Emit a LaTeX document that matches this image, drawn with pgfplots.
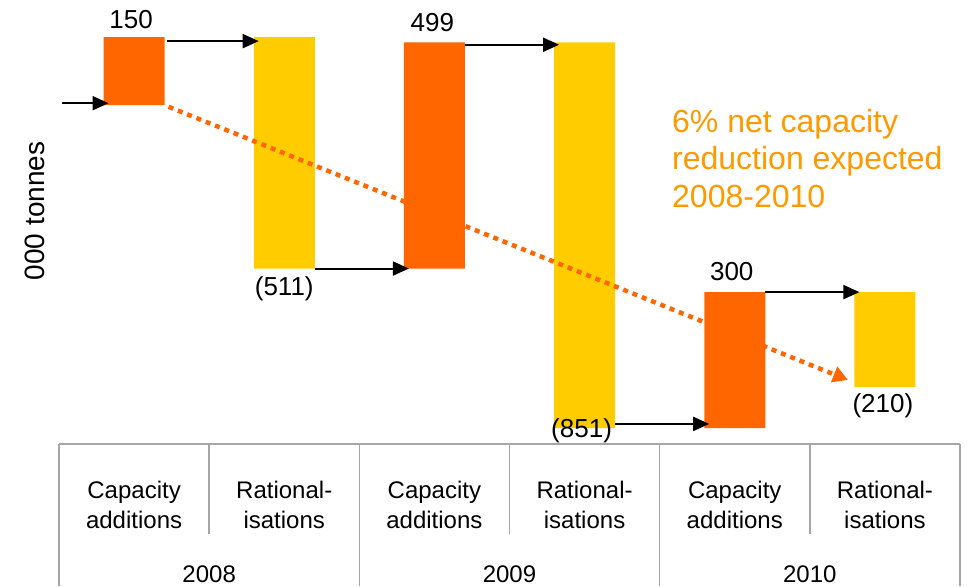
\documentclass[border=0pt]{standalone}
\usepackage{pgfplots}
\pgfplotsset{compat=1.18}
\usepackage{fontspec}
\setmainfont{Liberation Sans}
\usetikzlibrary{arrows.meta}

\definecolor{addorange}{HTML}{FF6600}
\definecolor{ratyellow}{HTML}{FFCC00}
\definecolor{noteorange}{HTML}{FF9900}
\definecolor{tablegray}{HTML}{A6A6A6}

\begin{document}
\begin{tikzpicture}
\begin{axis}[
  scale only axis,
  width=901pt, height=444pt,
  xmin=-0.5, xmax=5.5, ymin=9651.7, ymax=10631.8,
  enlargelimits=false,
  clip=false,
  ybar stacked, bar width=61pt,
  axis line style={draw=none},
  ytick=\empty,
  xtick={0,1,2,3,4,5},
  xticklabels={{Capacity\\additions},{Rational-\\isations},{Capacity\\additions},{Rational-\\isations},{Capacity\\additions},{Rational-\\isations}},
  xtick style={draw=none},
  xticklabel style={align=center, font=\fontsize{24}{30}\selectfont, anchor=base, yshift=-84pt},
  ylabel={000 tonnes},
  every axis y label/.style={at={(axis description cs:-0.0266,0.525)}, rotate=90, anchor=center, font=\fontsize{28}{32}\selectfont},
]
% waterfall: invisible base level + visible step (000 tonnes; start level ~10,400)
\addplot[draw=none, fill=white, fill opacity=0] coordinates {(0,10400) (1,10039) (2,10039) (3,9687) (4,9687) (5,9777)};
\addplot[draw=none, fill=addorange] coordinates {(0,150) (1,0) (2,499) (3,0) (4,300) (5,0)};
\addplot[draw=none, fill=ratyellow] coordinates {(0,0) (1,511) (2,0) (3,851) (4,0) (5,210)};

% anchor points for the annotations drawn on top, after the axis
\coordinate (l0) at (axis cs:0,10550);
\coordinate (l1) at (axis cs:1,10039);
\coordinate (l2) at (axis cs:2,10538);
\coordinate (l3) at (axis cs:3,9687);
\coordinate (l4) at (axis cs:4,9987);
\coordinate (l5) at (axis cs:5,9777);
\coordinate (a0s) at (axis cs:-0.48,10404);  \coordinate (a0e) at (axis cs:-0.17,10404);
\coordinate (a1s) at (axis cs:0.22,10541);   \coordinate (a1e) at (axis cs:0.83,10541);
\coordinate (a2s) at (axis cs:1.203,10039);  \coordinate (a2e) at (axis cs:1.83,10039);
\coordinate (a3s) at (axis cs:2.203,10533);  \coordinate (a3e) at (axis cs:2.83,10533);
\coordinate (a4s) at (axis cs:3.203,9696);   \coordinate (a4e) at (axis cs:3.83,9696);
\coordinate (a5s) at (axis cs:4.203,9987);   \coordinate (a5e) at (axis cs:4.83,9987);
\coordinate (ts) at (axis cs:0.23,10396);
\coordinate (te) at (axis cs:4.754,9793);
\coordinate (note) at (axis cs:3.582,10174.8);

% category table
\draw[tablegray, line width=1.5pt] (axis cs:-0.5,9651.7) -- (axis cs:5.5,9651.7);
\draw[tablegray, line width=1.5pt] (axis cs:-0.5,9651.7) -- (axis cs:-0.5,9338);
\draw[tablegray, line width=1.5pt] (axis cs:1.5,9651.7) -- (axis cs:1.5,9338);
\draw[tablegray, line width=1.5pt] (axis cs:3.5,9651.7) -- (axis cs:3.5,9338);
\draw[tablegray, line width=1.5pt] (axis cs:5.5,9651.7) -- (axis cs:5.5,9338);
\draw[tablegray, line width=1.5pt] (axis cs:0.5,9651.7) -- (axis cs:0.5,9453);
\draw[tablegray, line width=1.5pt] (axis cs:2.5,9651.7) -- (axis cs:2.5,9453);
\draw[tablegray, line width=1.5pt] (axis cs:4.5,9651.7) -- (axis cs:4.5,9453);
\node[anchor=base, inner sep=0pt, font=\fontsize{24}{30}\selectfont] at (axis cs:0.5,9347) {2008};
\node[anchor=base, inner sep=0pt, font=\fontsize{24}{30}\selectfont] at (axis cs:2.5,9347) {2009};
\node[anchor=base, inner sep=0pt, font=\fontsize{24}{30}\selectfont] at (axis cs:4.5,9347) {2010};
\end{axis}

% trend arrow
\draw[addorange, line width=4.5pt, dash pattern=on 5pt off 5pt, -{Triangle[length=15pt,width=16pt]}] (ts) -- (te);
\node[anchor=base west, align=left, inner sep=0pt, text=noteorange, font=\fontsize{32}{37.5}\selectfont]
  at (note) {6\% net capacity\\reduction expected\\2008-2010};

% connecting arrows
\draw[line width=2pt, -{Triangle[length=16pt,width=14pt]}] (a0s) -- (a0e);
\draw[line width=2pt, -{Triangle[length=16pt,width=14pt]}] (a1s) -- (a1e);
\draw[line width=2pt, -{Triangle[length=16pt,width=14pt]}] (a2s) -- (a2e);
\draw[line width=2pt, -{Triangle[length=16pt,width=14pt]}] (a3s) -- (a3e);
\draw[line width=2pt, -{Triangle[length=16pt,width=14pt]}] (a4s) -- (a4e);
\draw[line width=2pt, -{Triangle[length=16pt,width=14pt]}] (a5s) -- (a5e);

% value labels
\node[anchor=base, inner sep=0pt, font=\fontsize{26}{30}\selectfont] at ([yshift=9pt, xshift=-3pt]l0) {150};
\node[anchor=base, inner sep=0pt, font=\fontsize{26}{30}\selectfont] at ([yshift=-27pt]l1) {(511)};
\node[anchor=base, inner sep=0pt, font=\fontsize{26}{30}\selectfont] at ([yshift=11pt, xshift=-2pt]l2) {499};
\node[anchor=base, inner sep=0pt, font=\fontsize{26}{30}\selectfont] at ([yshift=-9pt, xshift=-3pt]l3) {(851)};
\node[anchor=base, inner sep=0pt, font=\fontsize{26}{30}\selectfont] at ([yshift=12pt, xshift=-3pt]l4) {300};
\node[anchor=base, inner sep=0pt, font=\fontsize{26}{30}\selectfont] at ([yshift=-25pt, xshift=-2pt]l5) {(210)};

\pgfresetboundingbox
\path[use as bounding box] (-59pt,-142pt) rectangle (909pt,444pt);
\end{tikzpicture}
\end{document}
